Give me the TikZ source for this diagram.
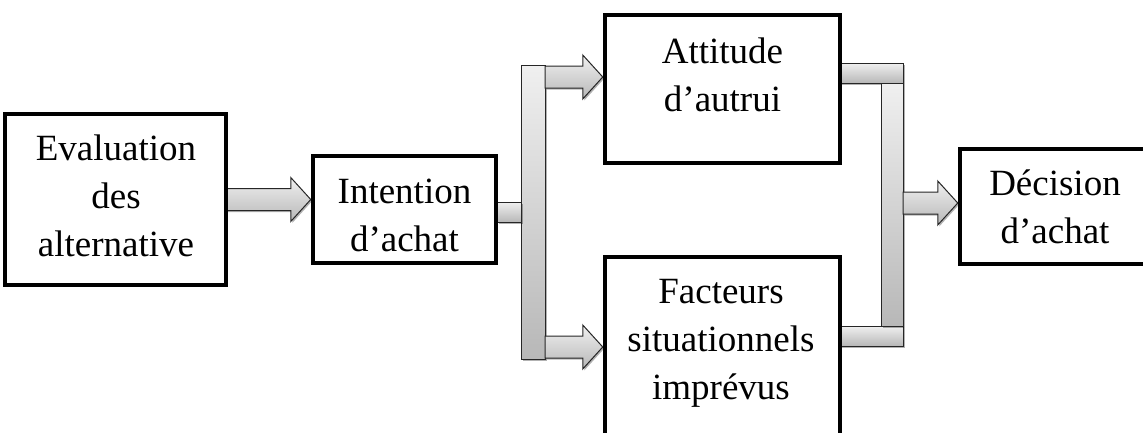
\documentclass[tikz,border=0pt]{standalone}
\usepackage{fontspec}
\setmainfont{Liberation Serif}
\usetikzlibrary{calc,shadows}
\newcommand\blockarrow[2]{%
  \path[arrowfill] let \p1=(#1), \p2=(#2) in
    (\x1,\y1+11pt) -- (\x2-20pt,\y1+11pt) -- (\x2-20pt,\y1+22pt) -- (\x2,\y1)
    -- (\x2-20pt,\y1-22pt) -- (\x2-20pt,\y1-11pt) -- (\x1,\y1-11pt) -- cycle;}
\newcommand\lines[1]{\begin{tabular}[t]{@{}c@{}}#1\end{tabular}}
\begin{document}
\begin{tikzpicture}[x=1pt,y=-1pt,
  box/.style={draw=black,line width=4.5pt,fill=white,rectangle,inner sep=0pt,outer sep=2.25pt},
  lbl/.style={inner sep=0pt,anchor=base,font=\fontsize{37}{48}\selectfont},
  shade/.style={top color=black!6,bottom color=black!28,draw=black!85,line width=1pt,
    drop shadow={shadow xshift=1.5pt,shadow yshift=-1.5pt,opacity=0.3,fill=black}},
  arrowfill/.style={shade},
  bar/.style={shade,rectangle,inner sep=0pt,outer sep=0pt}]
\useasboundingbox (0,0) rectangle (1143,432);
% bars
\node[bar,minimum width=24pt,minimum height=294pt] (vbarL) at (533,212) {};
\node[bar,minimum width=63pt,minimum height=20pt] (hbarT) at (871.5,73) {};
\node[bar,minimum width=63pt,minimum height=20pt] (hbarB) at (871.5,336) {};
\node[bar,minimum width=22pt,minimum height=243pt] (vbarR) at (892,204.5) {};
% boxes (outlines)
\node[box,minimum width=221pt,minimum height=171pt] (eval) at (115.5,199.5) {};
\node[box,minimum width=183pt,minimum height=107pt] (intent) at (404.5,209.5) {};
\node[box,minimum width=235pt,minimum height=148pt] (att) at (722.5,89) {};
\node[box,minimum width=235pt,minimum height=193pt] (fact) at (722.5,353.5) {};
\node[box,minimum width=190pt,minimum height=115pt] (dec) at (1055,206.5) {};
% connectors
\blockarrow{$(eval.east)+(-2,0)$}{eval.east -| intent.west}
\path[shade] ($(intent.east |- 0,202)+(-1,0)$) rectangle (vbarL.west |- 0,222);
\blockarrow{vbarL.east |- 0,77}{att.west |- 0,77}
\blockarrow{vbarL.east |- 0,347}{fact.west |- 0,347}
\blockarrow{vbarR.east |- 0,203}{dec.west |- 0,203}
% redraw box borders on top
\foreach \n in {eval,intent,att,fact,dec}{
  \draw[line width=4.5pt] (\n.south west) ++(2.25pt,2.25pt) rectangle ($(\n.north east)+(-2.25pt,-2.25pt)$);
}
% texts
\node[lbl] (tEval) at (116,160) {\lines{Evaluation\\des\\alternative}};
\node[lbl] (tIntent) at (404.5,203) {\lines{Intention\\d’achat}};
\node[lbl] (tAtt) at (722.5,63) {\lines{Attitude\\d’autrui}};
\node[lbl] (tFact) at (721,303) {\lines{Facteurs\\situationnels\\imprévus}};
\node[lbl] (tDec) at (1055,195) {\lines{Décision\\d’achat}};
\end{tikzpicture}
\end{document}
